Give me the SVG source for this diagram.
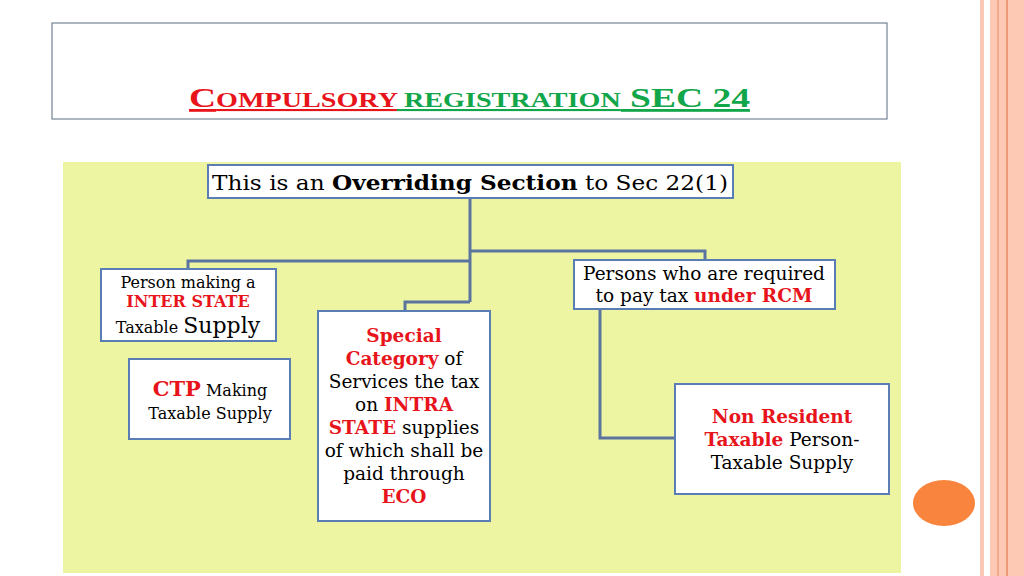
<svg xmlns="http://www.w3.org/2000/svg" width="1024" height="576" viewBox="0 0 1024 576">
<style>
.t{font-family:"DejaVu Serif","Liberation Serif",serif;fill:#000}
.r{fill:#e8141c;font-weight:bold}
.b{fill:#fff;stroke:#5b7db5;stroke-width:2}
.c{fill:none;stroke:#5a74a0;stroke-width:3}
</style>
<rect width="1024" height="576" fill="#fff"/>
<rect x="980" y="0" width="4" height="576" fill="#f9c8b6"/>
<rect x="990" y="0" width="34" height="576" fill="#fdc9b5"/>
<rect x="997" y="0" width="2" height="576" fill="#f3a98c"/>
<rect x="1006" y="0" width="2" height="576" fill="#ee9a7a"/>
<rect x="52" y="23" width="835" height="96" fill="#fff" stroke="#5b6b80" stroke-width="1"/>
<text x="189" y="107" font-family="Liberation Serif,serif" font-size="28" font-weight="bold" textLength="561" lengthAdjust="spacingAndGlyphs"><tspan fill="#e8141c" text-decoration="underline">C<tspan font-size="21">OMPULSORY</tspan></tspan><tspan fill="#12a64a" text-decoration="underline"><tspan font-size="21"> REGISTRATION</tspan> SEC 24</tspan></text>
<rect x="63" y="162" width="838" height="411" fill="#eef5a2"/>
<g id="connectors">
<path class="c" d="M470 198V302M470 261H188V268M470 251H705V261M470 302H405V311M600 310V438H675"/>
</g>
<g id="root"><rect class="b" x="208" y="165" width="525" height="33"/>
<text x="470" y="190" class="t" font-size="20" text-anchor="middle" textLength="516" lengthAdjust="spacingAndGlyphs">This is an <tspan font-weight="bold">Overriding Section</tspan> to Sec 22(1)</text></g>
<g id="inter"><rect class="b" x="101" y="269" width="175" height="72"/>
<text class="t" font-size="16" text-anchor="middle"><tspan x="188" y="288">Person making a</tspan><tspan x="188" y="307" class="r">INTER STATE</tspan><tspan x="188" y="333">Taxable <tspan font-size="22">Supply</tspan></tspan></text></g>
<g id="ctp"><rect class="b" x="129" y="359" width="161" height="80"/>
<text class="t" font-size="16" text-anchor="middle"><tspan x="210" y="396"><tspan class="r" font-size="21">CTP</tspan> Making</tspan><tspan x="210" y="419">Taxable Supply</tspan></text></g>
<g id="special"><rect class="b" x="318" y="311" width="172" height="210"/>
<text class="t" font-size="18.5" text-anchor="middle"><tspan x="404" y="342" class="r">Special</tspan><tspan x="404" y="365"><tspan class="r">Category</tspan> of</tspan><tspan x="404" y="388">Services the tax</tspan><tspan x="404" y="411">on <tspan class="r">INTRA</tspan></tspan><tspan x="404" y="434"><tspan class="r">STATE</tspan> supplies</tspan><tspan x="404" y="457">of which shall be</tspan><tspan x="404" y="480">paid through</tspan><tspan x="404" y="503" class="r">ECO</tspan></text></g>
<g id="rcm"><rect class="b" x="574" y="260" width="261" height="49"/>
<text class="t" font-size="18.5" text-anchor="middle"><tspan x="704" y="280">Persons who are required</tspan><tspan x="704" y="302">to pay tax <tspan class="r">under RCM</tspan></tspan></text></g>
<g id="nonres"><rect class="b" x="675" y="384" width="214" height="110"/>
<text class="t" font-size="18.5" text-anchor="middle"><tspan x="782" y="423" class="r">Non Resident</tspan><tspan x="782" y="446"><tspan class="r">Taxable</tspan> Person-</tspan><tspan x="782" y="469">Taxable Supply</tspan></text></g>
<ellipse cx="944" cy="503" rx="31" ry="23" fill="#f9843e"/>
</svg>
